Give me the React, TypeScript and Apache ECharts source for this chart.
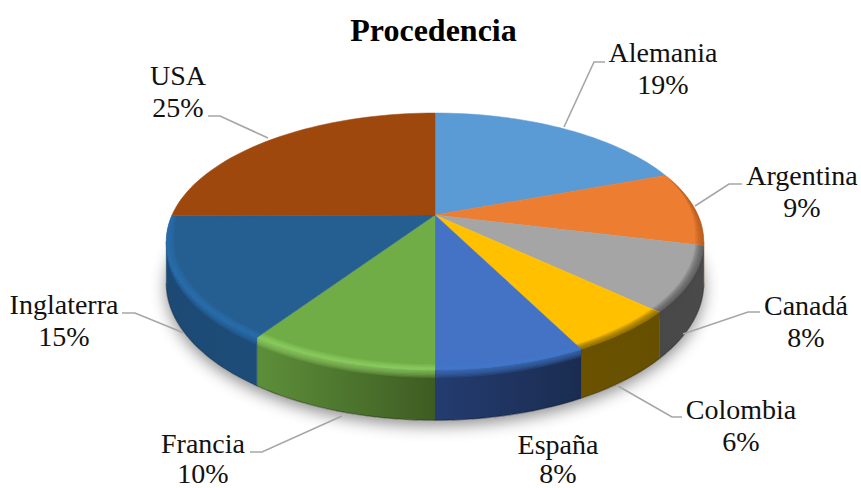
import React, { useEffect, useRef } from "react";
import * as echarts from "echarts";

const categories = ["Alemania", "Argentina", "Canadá", "Colombia", "España", "Francia", "Inglaterra", "USA"];
const shares = [19.4, 9.4, 8.1, 5.6, 7.5, 9.5, 15.4, 25.1];
const chartTitle = "Procedencia";

const topColors = ["#5b9bd5", "#ed7d31", "#a5a5a5", "#ffc000", "#4472c4", "#70ad47", "#255e91", "#9e480e"];
const rimColors = [null, "#a8521a", "#4a4a4a", "#6a5200", "#4478cc", "#93d96a", "#2b76b5", null];
const wallLeft = ["#555", "#7a3d12", "#484848", "#6a5200", "#243c70", "#5d8f3a", "#1c4a75", "#555"];
const wallRight = ["#555", "#7a3d12", "#4a4a4a", "#665000", "#1a2c50", "#3e5c22", "#1d4c78", "#555"];

// label centre x, block centre y, line height, leader polyline
const labelLayout: { x: number; y: number; lh: number; line: number[][] | null }[] = [
  { x: 663, y: 68, lh: 32, line: [[564, 127], [594, 62], [605, 62]] },
  { x: 802, y: 191, lh: 32, line: [[695, 206], [729, 184], [742, 184]] },
  { x: 806, y: 321, lh: 32, line: [[683, 334], [748, 312], [760, 312]] },
  { x: 741, y: 425, lh: 32, line: [[618, 386], [672, 417], [682, 417]] },
  { x: 558, y: 459, lh: 29, line: null },
  { x: 203, y: 458, lh: 30, line: [[342, 416], [262, 452], [250, 452]] },
  { x: 64, y: 320, lh: 32, line: [[184, 333], [135, 313], [122, 313]] },
  { x: 178, y: 91, lh: 32, line: [[268, 138], [220, 116], [208, 116]] },
];

const CX = 435, CY = 215, RX = 263, SY = 123, K = 0.206, DEPTH = 40;
const FONT = "'Liberation Serif','Times New Roman',serif";
const TAU = Math.PI * 2;
const total = shares.reduce((a, b) => a + b, 0);
const WALL_A = 101.9 / 360 * TAU, WALL_B = 258.1 / 360 * TAU;

const proj = (t: number, r = 1, down = 0): number[] => {
  const X = r * Math.sin(t), Y = r * Math.cos(t);
  const w = 1 + K * Y;
  return [CX + (RX * X) / w, CY - (SY * Y) / w + (down ? (down * DEPTH) / w : 0)];
};
const arcSteps = (a: number, b: number) => {
  const n = Math.max(2, Math.ceil(((b - a) / TAU) * 180));
  const out: number[] = [];
  for (let i = 0; i <= n; i++) out.push(a + ((b - a) * i) / n);
  return out;
};
const front = (t: number) => Math.max(0, Math.min(1, (0.35 - Math.cos(t)) / 0.5));

const renderItem = (params: any, api: any) => {
  const i = params.dataIndex;
  const val = api.value(0) as number;
  let before = 0;
  for (let j = 0; j < i; j++) before += shares[j];
  const a = (before / total) * TAU;
  const b = ((before + val) / total) * TAU;
  const children: any[] = [];
  const angs = arcSteps(a, b);

  if (i === 0) {
    const ring = arcSteps(0, TAU).map((t) => proj(t, 1, 1));
    children.push({
      type: "polygon",
      shape: { points: ring },
      style: { fill: "#fff", shadowBlur: 16, shadowColor: "rgba(0,0,0,0.45)", shadowOffsetY: 5 },
    });
  }

  // side wall
  const wa = Math.max(a, WALL_A), wb = Math.min(b, WALL_B);
  if (wb > wa) {
    const ws = arcSteps(wa, wb);
    const pts = ws.map((t) => proj(t)).concat(ws.slice().reverse().map((t) => proj(t, 1, 1)));
    const colL = wallLeft[i], colR = wallRight[i];
    children.push({
      type: "polygon",
      shape: { points: pts },
      style: {
        fill: new echarts.graphic.LinearGradient(0, 0, 1, 0, [
          { offset: 0, color: colL },
          { offset: 1, color: colR },
        ]),
        stroke: colR,
        lineWidth: 0.4,
      },
    });
    children.push({
      type: "polyline",
      shape: { points: ws.map((t) => proj(t, 1, 1)) },
      style: { fill: "none", stroke: "rgba(0,0,0,0.28)", lineWidth: 1.2 },
    });
  }

  // top face
  children.push({
    type: "polygon",
    shape: { points: [[CX, CY]].concat(angs.map((t) => proj(t))) },
    style: { fill: topColors[i], stroke: topColors[i], lineWidth: 0.5 },
  });

  // bevel: stacked translucent bands around the rim
  const rim = rimColors[i];
  if (rim) {
    const n = 6;
    for (let s = 1; s <= n; s++) {
      const q = s / n;
      const pts = angs
        .map((t) => proj(t, 1 - 0.03 * q * front(t)))
        .concat(angs.slice().reverse().map((t) => proj(t)));
      children.push({ type: "polygon", shape: { points: pts }, style: { fill: rim, opacity: 0.18 } });
    }
    if (wb > wa) {
      const ws = arcSteps(wa, wb);
      for (let s = 1; s <= n; s++) {
        const q = s / n;
        const pts = ws
          .map((t) => proj(t))
          .concat(ws.slice().reverse().map((t) => proj(t, 1, 0.16 * q)));
        children.push({ type: "polygon", shape: { points: pts }, style: { fill: rim, opacity: 0.18 } });
      }
    }
  }

  // leader & label
  const lay = labelLayout[i];
  if (lay.line) {
    children.push({
      type: "polyline",
      shape: { points: lay.line },
      style: { fill: "none", stroke: "#a6a6a6", lineWidth: 1.6 },
    });
  }
  children.push({
    type: "text",
    x: lay.x,
    y: lay.y,
    style: {
      text: `${categories[i]}\n${Math.round(val)}%`,
      font: `28px ${FONT}`,
      fill: "#111",
      align: "center",
      verticalAlign: "middle",
      lineHeight: lay.lh,
    },
  });
  return { type: "group", children };
};

export default function App() {
  const ref = useRef<HTMLDivElement>(null);
  useEffect(() => {
    const chart = echarts.init(ref.current!, null, { renderer: "svg" });
    chart.setOption({
      animation: false,
      backgroundColor: "#fff",
      title: {
        text: chartTitle,
        left: 433.5,
        top: 14,
        padding: 0,
        textAlign: "center",
        textStyle: { fontFamily: FONT, fontSize: 32, fontWeight: "bold", color: "#000" },
      },
      series: [
        {
          type: "custom",
          coordinateSystem: "none",
          renderItem,
          data: shares.map((v) => [v]),
          silent: true,
        },
      ],
    });
    return () => chart.dispose();
  }, []);
  return <div ref={ref} style={{ position: "absolute", left: 0, top: 0, width: 861, height: 488 }} />;
}
